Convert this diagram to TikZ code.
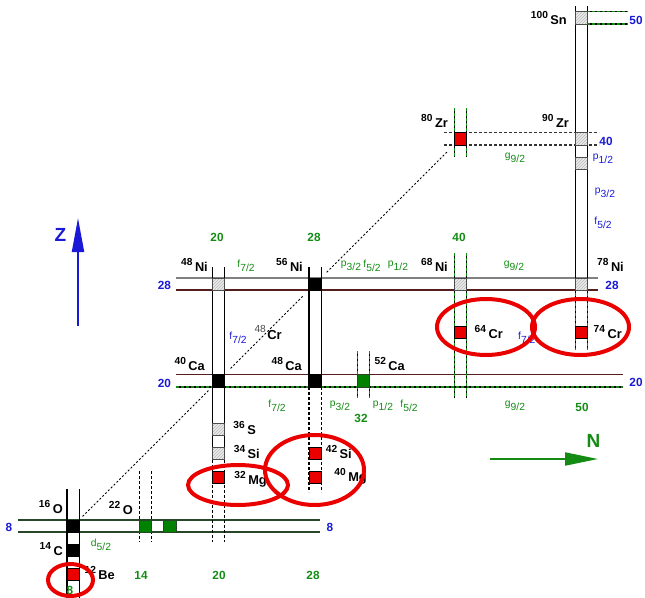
\documentclass[tikz,border=0pt]{standalone}
\usepackage{fontspec}
\setmainfont{Liberation Sans}
\usetikzlibrary{arrows.meta,patterns}
\definecolor{mblue}{RGB}{25,25,215}
\definecolor{mgreen}{RGB}{20,140,20}
\definecolor{dgreen}{RGB}{40,70,40}
\definecolor{dbrown}{RGB}{85,30,30}
\definecolor{cred}{RGB}{235,0,0}
\definecolor{cgreen}{RGB}{0,130,0}
\newcommand{\nucl}[2]{\raisebox{6pt}{\fontsize{10.2}{10.2}\selectfont #1}\hspace{2.5pt}{\fontsize{12.8}{12.8}\selectfont #2}}
\newcommand{\orbl}[2]{#1\raisebox{-4pt}{#2}}
\begin{document}
\begin{tikzpicture}[x=1pt,y=-1pt,
 cell/.style={draw=black, line width=0.7pt, minimum size=12.1pt, inner sep=0pt, outer sep=0pt},
 blk/.style={cell, fill=black},
 rd/.style={cell, fill=cred},
 gr/.style={cell, fill=cgreen, draw=dgreen},
 ht/.style={cell, draw=gray!60!black, preaction={fill=gray!15}, pattern=north east lines, pattern color=gray!55},
 nl/.style={anchor=base east, inner sep=0pt, font=\bfseries},
 bm/.style={text=mblue, font=\bfseries\fontsize{11.8}{11.8}\selectfont, inner sep=0pt},
 gm/.style={text=mgreen, font=\bfseries\fontsize{11.8}{11.8}\selectfont, inner sep=0pt},
 go/.style={text=mgreen, font=\fontsize{10.3}{10.3}\selectfont, inner sep=0pt},
 bo/.style={text=mblue, font=\fontsize{10.3}{10.3}\selectfont, inner sep=0pt},
 colsolid/.style={line width=1.2pt, black},
 coldash/.style={line width=1.2pt, black, dash pattern=on 3pt off 2pt},
 gd/.style={line width=1.2pt, draw=black, postaction={draw=mgreen, dash pattern=on 3pt off 2pt}},
 zdash/.style={line width=1.2pt, draw=gray!40!black, dash pattern=on 3pt off 2pt},
 ring/.style={draw=cred, line width=4pt},
 nz/.style={line width=0.9pt, dash pattern=on 2pt off 2pt, shorten >=5pt, shorten <=5pt},
]
\useasboundingbox (0,0) rectangle (645,597);
% horizontal magic lines
\draw[dgreen, line width=1.3pt] (18,520) -- (320,520) (18,532.1) -- (320,532.1);
\draw[dbrown, line width=1.3pt] (176,374.8) -- (623,374.8);
\draw[gd] (176,386.9) -- (623,386.9);
\draw[gray, line width=1.3pt] (176,278) -- (598,278);
\draw[dbrown, line width=1.3pt] (176,290.1) -- (598,290.1);
\draw[zdash] (444,132.8) -- (599,132.8) (444,144.9) -- (599,144.9);
\draw[gd] (587.3,11.8) -- (628,11.8) (587.3,23.9) -- (628,23.9);
% vertical magic lines
\draw[colsolid] (67,489)--(67,600) (79.1,489)--(79.1,600);
\draw[coldash] (139.6,471)--(139.6,542) (151.7,471)--(151.7,542);
\draw[colsolid] (212.2,267)--(212.2,459.5) (224.3,267)--(224.3,459.5);
\draw[coldash] (212.2,459.5)--(212.2,542) (224.3,459.5)--(224.3,542);
\draw[colsolid] (309,267)--(309,387) (321.1,267)--(321.1,387);
\draw[coldash] (309,387)--(309,492) (321.1,387)--(321.1,492);
\draw[gd] (357.4,351)--(357.4,398) (369.5,351)--(369.5,398);
\draw[gd] (454.2,253)--(454.2,398) (466.3,253)--(466.3,398);
\draw[gd] (454.2,108)--(454.2,157) (466.3,108)--(466.3,157);
\draw[colsolid] (575.2,6)--(575.2,278) (587.3,6)--(587.3,278);
\draw[gd] (575.2,278)--(575.2,350) (587.3,278)--(587.3,350);
% cells
\node[blk] (o16) at (73.05,526.05) {};
\node[blk] (c14) at (73.05,550.25) {};
\node[rd] (be12) at (73.05,574.45) {};
\node[gr] (o22) at (145.65,526.05) {};
\node[gr] (o24) at (169.85,526.05) {};
\node[rd] (mg32) at (218.25,477.65) {};
\node[ht] (si34) at (218.25,453.45) {};
\node[ht] (s36) at (218.25,429.25) {};
\node[blk] (ca40) at (218.25,380.85) {};
\node[ht] (ni48) at (218.25,284.05) {};
\node[rd] (mg40) at (315.05,477.65) {};
\node[rd] (si42) at (315.05,453.45) {};
\node[blk] (ca48) at (315.05,380.85) {};
\node[blk] (ni56) at (315.05,284.05) {};
\node[gr] (ca52) at (363.45,380.85) {};
\node[rd] (cr64) at (460.25,332.45) {};
\node[ht] (ni68) at (460.25,284.05) {};
\node[rd] (zr80) at (460.25,138.85) {};
\node[rd] (cr74) at (581.25,332.45) {};
\node[ht] (ni78) at (581.25,284.05) {};
\node[ht] (sr88) at (581.25,163.05) {};
\node[ht] (zr90) at (581.25,138.85) {};
\node[ht] (sn100) at (581.25,17.85) {};
% N=Z line
\draw[nz] (o16.north east) -- (ca40.south west);
\draw[nz, shorten <=9pt, shorten >=7pt] (ca40.north east) -- (ni56.south west);
\draw[nz, shorten <=8pt, shorten >=9pt] (ni56.north east) -- (zr80.south west);
% nuclide labels
\node[nl] (lo16) at (63,513.5) {\nucl{16}{O}};
\node[nl] (lc14) at (63,555) {\nucl{14}{C}};
\node[nl] (lbe12) at (115,579.5) {\nucl{12}{Be}};
\node[nl] (lo22) at (133,514) {\nucl{22}{O}};
\node[nl] (lmg32) at (267,484) {\nucl{32}{Mg}};
\node[nl] (lsi34) at (260,458.5) {\nucl{34}{Si}};
\node[nl] (ls36) at (256,434) {\nucl{36}{S}};
\node[nl] (lsi42) at (352,458.5) {\nucl{42}{Si}};
\node[nl] (lmg40) at (367,481.5) {\nucl{40}{Mg}};
\node[nl] (lca40) at (205,370.5) {\nucl{40}{Ca}};
\node[nl] (lca48) at (302,370.5) {\nucl{48}{Ca}};
\node[nl] (lca52) at (405,370.5) {\nucl{52}{Ca}};
\node[nl] (lcr48) at (282,339.5) {\raisebox{7pt}{\mdseries\color{gray!60!black}\fontsize{10.2}{10.2}\selectfont 48}\hspace{1.5pt}{\fontsize{13}{13}\selectfont Cr}};
\node[nl] (lni48) at (208,271.5) {\nucl{48}{Ni}};
\node[nl] (lni56) at (303,271.5) {\nucl{56}{Ni}};
\node[nl] (lni68) at (448,271.5) {\nucl{68}{Ni}};
\node[nl] (lni78) at (624,271.5) {\nucl{78}{Ni}};
\node[nl] (lcr64) at (503,338.5) {\nucl{64}{Cr}};
\node[nl] (lcr74) at (622,338.5) {\nucl{74}{Cr}};
\node[nl] (lzr80) at (448,127.5) {\nucl{80}{Zr}};
\node[nl] (lzr90) at (569,127.5) {\nucl{90}{Zr}};
\node[nl] (lsn100) at (567,24.5) {\nucl{100}{Sn}};
% magic numbers, protons (blue)
\node[bm] (bz8a) at (9,527) {8};
\node[bm] (bz8b) at (330,527) {8};
\node[bm] (bz20a) at (164.5,383) {20};
\node[bm] (bz20b) at (636,382) {20};
\node[bm] (bz28a) at (164.5,285) {28};
\node[bm] (bz28b) at (612,285) {28};
\node[bm] (bz40) at (606,141) {40};
\node[bm] (bz50) at (636,20) {50};
% magic numbers, neutrons (green)
\node[gm] (gn20a) at (217,237) {20};
\node[gm] (gn28a) at (314,237) {28};
\node[gm] (gn40) at (459,237) {40};
\node[gm] (gn32) at (361,418) {32};
\node[gm] (gn50) at (582,407) {50};
\node[gm] (gn14) at (141,575) {14};
\node[gm] (gn20b) at (219,575) {20};
\node[gm] (gn28b) at (313,575) {28};
\node[gm] (gn8) at (70,590.5) {8};
% orbitals
\node[go] (od52) at (101,545) {\orbl{d}{5/2}};
\node[go] (of72a) at (246,265.5) {\orbl{f}{7/2}};
\node[go] (op32a) at (351,265.5) {\orbl{p}{3/2}};
\node[go] (of52a) at (372,265.5) {\orbl{f}{5/2}};
\node[go] (op12a) at (398,265.5) {\orbl{p}{1/2}};
\node[go] (og92a) at (514,266) {\orbl{g}{9/2}};
\node[go] (of72b) at (277,405.5) {\orbl{f}{7/2}};
\node[go] (op32b) at (340,405.5) {\orbl{p}{3/2}};
\node[go] (op12b) at (383,405.5) {\orbl{p}{1/2}};
\node[go] (of52b) at (409,405.5) {\orbl{f}{5/2}};
\node[go] (og92b) at (515,406) {\orbl{g}{9/2}};
\node[go] (og92c) at (515,157.5) {\orbl{g}{9/2}};
\node[bo] (bf72) at (238,337.5) {\orbl{f}{7/2}};
\node[bo] (bp12) at (603,158.5) {\orbl{p}{1/2}};
\node[bo] (bp32) at (605,192.5) {\orbl{p}{3/2}};
\node[bo] (bf52) at (603,223) {\orbl{f}{5/2}};
\node[bo, anchor=west] (bf72b) at (518,337.5) {\orbl{f}{7/2}};
% red rings
\draw[ring] (70.5,580) ellipse [x radius=22.5, y radius=16];
\draw[ring] (238,485) ellipse [x radius=50, y radius=20];
\draw[ring] (314.5,470) ellipse [x radius=49.5, y radius=35];
\draw[ring] (486,327) ellipse [x radius=49, y radius=28];
\draw[ring] (580.5,327) ellipse [x radius=48.5, y radius=28];
% axes
\coordinate (zs) at (78,326);
\coordinate (ze) at (78,218);
\draw[mblue, line width=2pt, -{Triangle[length=34pt,width=12pt]}] (zs) -- (ze);
\node[text=mblue, font=\bfseries\fontsize{19}{19}\selectfont, inner sep=0pt] (zl) at (60.5,235) {Z};
\coordinate (ns) at (490,459);
\coordinate (ne) at (598,459);
\draw[mgreen, line width=2pt, -{Triangle[length=33pt,width=13pt]}] (ns) -- (ne);
\node[text=mgreen, font=\bfseries\fontsize{19}{19}\selectfont, inner sep=0pt] (nl) at (593.5,441) {N};
\end{tikzpicture}
\end{document}
